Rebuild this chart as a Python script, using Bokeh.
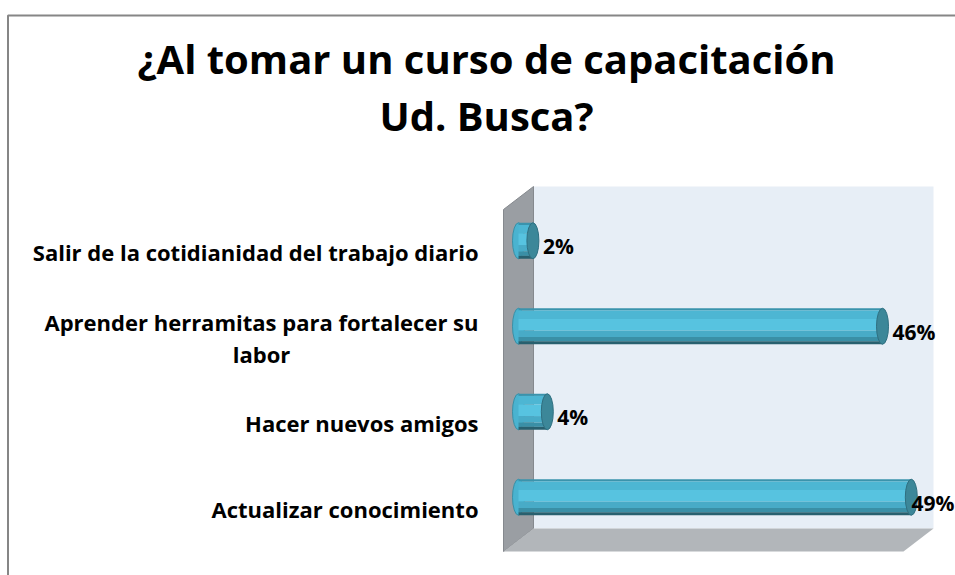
from bokeh.plotting import figure
from bokeh.models import Range1d
from bokeh.core.properties import value
from bokeh.embed import file_html
from bokeh.resources import INLINE

# ---------------- data ----------------
title_lines = ["¿Al tomar un curso de capacitación", "Ud. Busca?"]
categories = [
    "Actualizar conocimiento",
    "Hacer nuevos amigos",
    "Aprender herramitas para fortalecer su\nlabor",
    "Salir de la cotidianidad del trabajo diario",
]
values = [49.1, 3.6, 45.5, 1.8]          # percent
value_labels = ["49%", "4%", "46%", "2%"]
axis_max = 50

# ---------------- layout ----------------
W, H = 955, 575
PX = 8.0      # pixels per percent
PY = 85.5     # pixels per category
X0 = 518.0    # canvas px of 0 %
Y0 = 496.75   # canvas px of first category (mid depth)


def fx(px):
    return (px - X0) / PX


def fy(py):
    return (Y0 - py) / PY


DX = 15 / PX          # half depth of the 3-D box (x)
DY = 11.5 / PY        # half depth of the 3-D box (y)
bar_h = 36 / PY
cap_w = 12 / PX
FONT = value("Open Sans")

p = figure(width=W, height=H, output_backend="svg", toolbar_location=None,
           x_range=Range1d(fx(0), fx(W)), y_range=Range1d(fy(H), fy(0)),
           x_axis_type=None, y_axis_type=None, min_border=0)
p.outline_line_color = None
p.background_fill_color = "white"
p.border_fill_color = "white"
p.grid.visible = False

n = len(categories)
ys = list(range(n))

# ---- 3-D walls ----
p.quad(left=[DX], right=[axis_max + DX], bottom=[-0.5 + DY], top=[n - 0.5 + DY],
       fill_color="#E7EEF6", line_color=None)
p.patch([-DX, -DX, DX, DX], [-0.5 - DY, n - 0.5 - DY, n - 0.5 + DY, -0.5 + DY],
        fill_color="#9A9EA3", line_color="#85898E", line_width=1)
p.patch([-DX, DX, axis_max + DX, axis_max - DX],
        [-0.5 - DY, -0.5 + DY, -0.5 + DY, -0.5 - DY],
        fill_color="#B2B6BA", line_color=None)

# ---- cylinders ----
p.ellipse(x=[0] * n, y=ys, width=cap_w, height=bar_h,
          fill_color="#4AB3D0", line_color="#3A8FA6", line_width=1)
bands = [(0.00, 0.06, "#3A93AC"), (0.06, 0.30, "#4DB6D3"), (0.30, 0.62, "#57C3E0"),
         (0.62, 0.80, "#48ABC7"), (0.80, 0.92, "#3A8FA6"), (0.92, 1.00, "#28606F")]
for f0, f1, col in bands:
    p.rect(x=[v / 2 for v in values],
           y=[y + bar_h / 2 - (f0 + f1) / 2 * bar_h for y in ys],
           width=values, height=(f1 - f0) * bar_h,
           fill_color=col, line_color=None)
p.ellipse(x=values, y=ys, width=cap_w, height=bar_h,
          fill_color="#3C8799", line_color="#2F6F80", line_width=1)

# ---- value labels ----
lab_x = [min(v + cap_w / 2 + 4 / PX, axis_max + DX - 22 / PX) for v in values]
p.text(x=lab_x, y=[y - 5.5 / PY for y in ys], text=value_labels,
       anchor="center_left", text_font=FONT,
       text_font_style="bold", text_font_size="21px", text_color="black")

# ---- category labels ----
p.text(x=[fx(478)] * n, y=[y - DY for y in ys], text=categories,
       anchor="center_right", text_align="center", text_font=FONT,
       text_font_style="bold", text_font_size="22px", text_color="black",
       text_line_height=1.05)

# ---- title ----
p.text(x=[fx(486)] * 2, y=[fy(58), fy(115)], text=title_lines,
       anchor="center", text_font=FONT,
       text_font_style="bold", text_font_size="40px", text_color="black")

# ---- chart border ----
p.line(x=[fx(7.5), fx(7.5), fx(W + 5)], y=[fy(H + 5), fy(15), fy(15)],
       line_color="#868686", line_width=2)

open("out.html", "w").write(file_html(p, INLINE))
